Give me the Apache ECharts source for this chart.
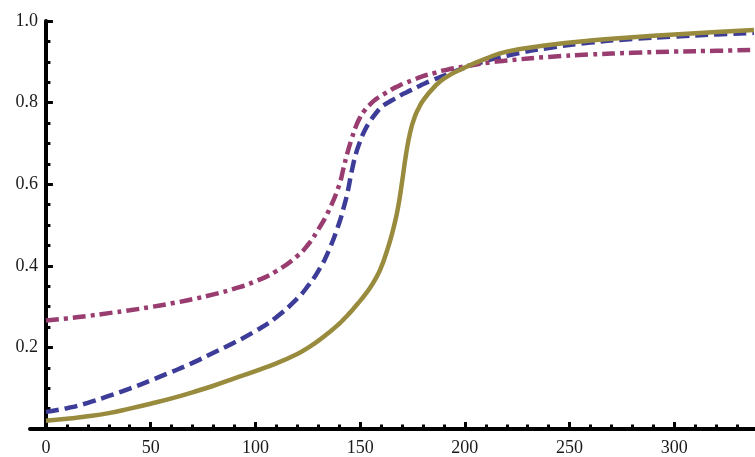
<!DOCTYPE html>
<html lang="en" style="height: 100%">
<head>
<meta charset="utf-8">
<title>Three transition curves</title>
</head>
<body style="height: 100%; margin: 0">
<div id="container" style="width: 755px; height: 457px"></div>

<script type="text/javascript" src="https://cdn.jsdelivr.net/npm/echarts@6/dist/echarts.min.js"></script>

<script type="text/javascript">

// shared x positions (denser where the curves turn steeply)
const xs = [0, 10, 20, 30, 40, 50, 60, 70, 80, 90, 100, 110, 120, 125, 130, 135, 140, 142, 144, 146, 148, 150,
    152, 155, 158, 160, 162, 164, 166, 168, 170, 172, 174, 176, 178, 180, 185, 190, 200, 210, 220, 240, 260,
    280, 300, 320, 338];

// dashed blue curve
const blueY = [0.042, 0.051, 0.064, 0.081, 0.099, 0.119, 0.140, 0.162, 0.187, 0.212, 0.240, 0.274, 0.320, 0.350,
    0.387, 0.437, 0.505, 0.540, 0.580, 0.632, 0.675, 0.705, 0.730, 0.756, 0.777, 0.788, 0.796, 0.802, 0.808,
    0.814, 0.820, 0.825, 0.830, 0.835, 0.840, 0.845, 0.856, 0.866, 0.886, 0.902, 0.915, 0.934, 0.947, 0.956,
    0.962, 0.967, 0.971];

// dash-dot purple curve
const purpleY = [0.266, 0.271, 0.277, 0.284, 0.291, 0.299, 0.308, 0.318, 0.330, 0.344, 0.362, 0.387, 0.424, 0.451,
    0.489, 0.535, 0.598, 0.638, 0.678, 0.712, 0.742, 0.764, 0.780, 0.797, 0.810, 0.817, 0.823, 0.829, 0.835,
    0.840, 0.845, 0.849, 0.853, 0.857, 0.861, 0.865, 0.872, 0.879, 0.889, 0.897, 0.903, 0.912, 0.918, 0.922,
    0.925, 0.927, 0.929];

// solid gold curve
const goldY = [0.020, 0.025, 0.031, 0.039, 0.050, 0.062, 0.075, 0.090, 0.106, 0.124, 0.142, 0.161, 0.184, 0.199,
    0.216, 0.236, 0.258, 0.268, 0.279, 0.290, 0.302, 0.314, 0.327, 0.348, 0.374, 0.396, 0.424, 0.456, 0.494,
    0.540, 0.605, 0.676, 0.730, 0.764, 0.787, 0.805, 0.836, 0.859, 0.886, 0.908, 0.925, 0.941, 0.952, 0.960,
    0.967, 0.973, 0.978];

const xMajorTicks = [0, 50, 100, 150, 200, 250, 300];
const xMinorTicks = [10, 20, 30, 40, 60, 70, 80, 90, 110, 120, 130, 140, 160, 170, 180, 190,
    210, 220, 230, 240, 260, 270, 280, 290, 310, 320, 330];

const pairs = ys => xs.map((x, i) => [x, ys[i]]);

var dom = document.getElementById('container');
var myChart = echarts.init(dom);

const labelFont = { fontFamily: 'Liberation Serif', fontSize: 18, color: '#1a1a1a' };

var option = {
    animation: false,
    grid: { left: 30, right: 0, top: 21, bottom: 25, containLabel: false },
    xAxis: [
        {
            type: 'value', min: -7.6, max: 338.5, position: 'bottom',
            splitLine: { show: false },
            axisLine: { lineStyle: { color: '#000', width: 4 } },
            axisTick: { inside: true, length: 7, lineStyle: { color: '#000', width: 3 }, customValues: xMajorTicks },
            axisLabel: Object.assign({ margin: 10, customValues: xMajorTicks }, labelFont)
        },
        {
            type: 'value', min: -7.6, max: 338.5, position: 'bottom',
            splitLine: { show: false },
            axisLine: { show: false },
            axisTick: { inside: true, length: 4.5, lineStyle: { color: '#000', width: 3 }, customValues: xMinorTicks },
            axisLabel: { show: false }
        }
    ],
    yAxis: {
        type: 'value', min: 0, max: 1, interval: 0.2,
        splitLine: { show: false },
        axisLine: { onZero: true, lineStyle: { color: '#000', width: 4 } },
        axisTick: { inside: true, length: 7, lineStyle: { color: '#000', width: 3 } },
        minorTick: { show: true, splitNumber: 4, length: 4.5, lineStyle: { color: '#000', width: 3 } },
        minorSplitLine: { show: false },
        axisLabel: Object.assign({
            margin: -8, showMinLabel: false,
            formatter: v => v.toFixed(1)
        }, labelFont)
    },
    series: [
        {
            name: 'blue', type: 'line', data: pairs(blueY), showSymbol: false,
            smooth: 0.5,
            lineStyle: { color: '#3d3d99', width: 4.5, type: [13, 6], cap: 'butt' }
        },
        {
            name: 'purple', type: 'line', data: pairs(purpleY), showSymbol: false,
            smooth: 0.5,
            lineStyle: { color: '#993d71', width: 4.5, type: [13, 5, 4, 5], cap: 'butt' }
        },
        {
            name: 'gold', type: 'line', data: pairs(goldY), showSymbol: false,
            smooth: 0.5,
            lineStyle: { color: '#998b3d', width: 4.5, type: 'solid' }
        }
    ]
};

myChart.setOption(option);
window.addEventListener('resize', myChart.resize);
</script>
</body>
</html>
